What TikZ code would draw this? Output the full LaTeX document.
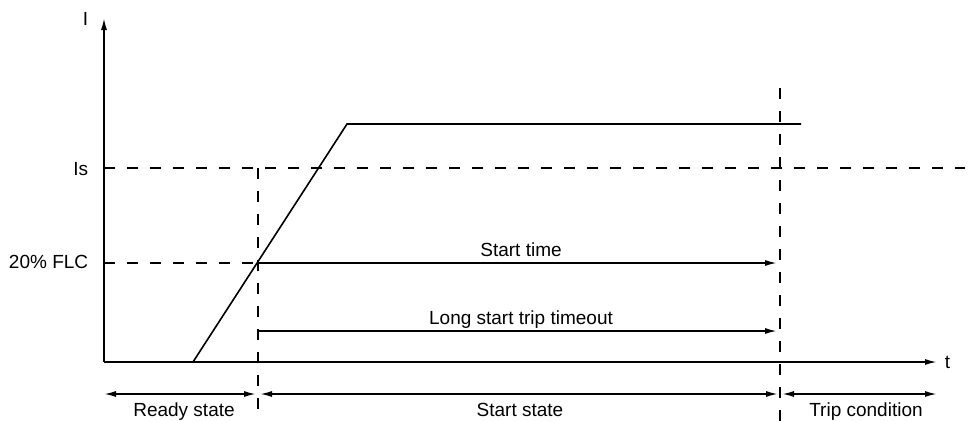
\documentclass[tikz,border=0pt]{standalone}
\usepackage{fontspec}
\setmainfont{Liberation Sans}
\usetikzlibrary{arrows.meta}
\tikzset{>={Latex[length=12pt,width=6pt]}}

\begin{document}
\begin{tikzpicture}[x=1pt, y=-1pt, line width=1.6pt, font=\fontsize{19}{22}\selectfont,
    guide/.style={dash pattern=on 11pt off 12pt, line width=1.6pt},
    lbl/.style={inner sep=0pt}]
    \useasboundingbox (0, 0) rectangle (973, 421);
    % axes
    \coordinate (O) at (104, 362);
    \coordinate (Itop) at (104, 18);
    \coordinate (tend) at (937, 362);
    \draw [->] (O) -- (Itop);
    \draw [->] (O) -- (tend);
    \node [lbl, anchor=base east] (Ilbl) at (89, 25) {I};
    \node [lbl, anchor=base west] (tlbl) at (944, 368) {t};

    % levels
    \coordinate (IsL) at (104, 168);
    \coordinate (IsR) at (965, 168);
    \coordinate (flcL) at (104, 263);
    \coordinate (flcX) at (258, 263);
    \draw [guide] (IsL) -- (IsR);
    \draw [guide] (flcL) -- (flcX);
    \node [lbl, anchor=base east] (Islbl) at (89, 175) {Is};
    \node [lbl, anchor=base east] (flclbl) at (89, 268) {20\% FLC};

    % current
    \coordinate (rampA) at (193, 362);
    \coordinate (rampB) at (347, 124);
    \coordinate (flatE) at (801, 124);
    \draw [line join=miter] (rampA) -- (rampB) -- (flatE);

    % state borders
    \coordinate (sA) at (258, 168);
    \coordinate (sB) at (258, 421);
    \coordinate (tA) at (780, 88);
    \coordinate (tB) at (780, 421);
    \draw [guide] (sA) -- (sB);
    \draw [guide] (tA) -- (tB);

    % timers
    \coordinate (stE) at (777, 263);
    \coordinate (lsA) at (259, 331);
    \coordinate (lsE) at (777, 331);
    \draw [->] (flcX) -- (stE);
    \draw [->] (lsA) -- (lsE);
    \node [lbl, anchor=base] (stlbl) at (521, 256) {Start time};
    \node [lbl, anchor=base] (lslbl) at (521, 324) {Long start trip timeout};

    % states
    \coordinate (rdA) at (104, 394);
    \coordinate (rdE) at (256, 394);
    \coordinate (ssA) at (260, 394);
    \coordinate (ssE) at (778, 394);
    \coordinate (tcA) at (782, 394);
    \coordinate (tcE) at (937, 394);
    \draw [<->] (rdA) -- (rdE);
    \draw [<->] (ssA) -- (ssE);
    \draw [<->] (tcA) -- (tcE);
    \node [lbl, anchor=base] (rdlbl) at (184, 416) {Ready state};
    \node [lbl, anchor=base] (sslbl) at (520, 416) {Start state};
    \node [lbl, anchor=base] (tclbl) at (866, 416) {Trip condition};
\end{tikzpicture}
\end{document}
